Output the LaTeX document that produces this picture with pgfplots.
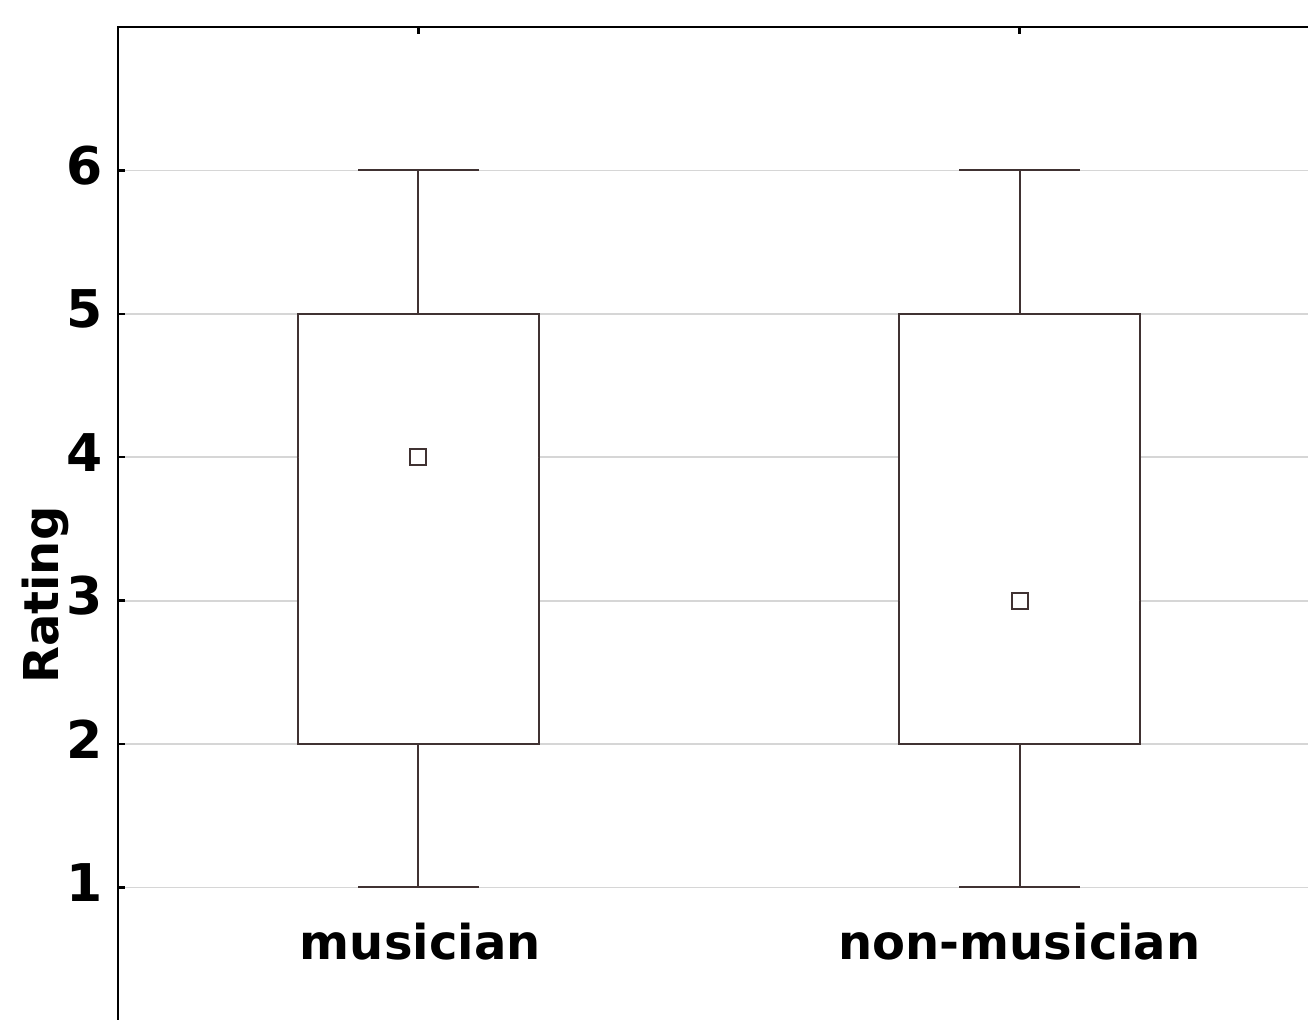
\documentclass[border=0pt]{standalone}
\usepackage{fontspec}
\setmainfont{DejaVu Sans}
\usepackage{pgfplots}
\pgfplotsset{compat=1.18}
\usepgfplotslibrary{statistics}
\definecolor{boxc}{RGB}{64,50,50}
\definecolor{gridc}{RGB}{214,214,214}
\begin{document}
\begin{tikzpicture}
\clip (-59pt,13.5pt) rectangle (595pt,-496pt);
\begin{axis}[
  at={(0,0)}, anchor=north west,
  scale only axis, width=601pt, height=501.9pt,
  xmin=-0.5, xmax=1.5, ymin=0, ymax=7,
  axis line style={line width=1.3pt, black},
  xtick={0,1}, xticklabels={}, ytick={1,2,3,4,5,6},
  tick align=inside, major tick length=3.5pt,
  tick style={line width=1.2pt, black},
  ytick pos=left,
  ymajorgrids, grid style={gridc, line width=0.9pt},
  /pgf/number format/assume math mode=true,
  yticklabel style={font=\fontsize{26}{30}\selectfont\bfseries, inner sep=0pt, xshift=-7.5pt, yshift=2.5pt},
  ylabel={Rating},
  every axis y label/.style={at={(axis description cs:-0.06,0.434)}, rotate=90, anchor=center, font=\fontsize{24}{28}\selectfont\bfseries},
  boxplot/draw direction=y,
  clip=false,
]
\addplot[boxc, line width=1pt, fill=white,
  boxplot prepared={draw direction=y, draw position=0, lower whisker=1, lower quartile=2, median=4,
    upper quartile=5, upper whisker=6, box extend=0.4, whisker extend=0.2,
    every median/.style={draw=none}}] coordinates {};
\addplot[boxc, line width=1pt, fill=white,
  boxplot prepared={draw direction=y, draw position=1, lower whisker=1, lower quartile=2, median=3,
    upper quartile=5, upper whisker=6, box extend=0.4, whisker extend=0.2,
    every median/.style={draw=none}}] coordinates {};
\addplot[only marks, mark=square*, mark size=4pt,
  mark options={draw=boxc, fill=white, line width=1pt}] coordinates {(0,4) (1,3)};
\node[anchor=base, font=\fontsize{24}{28}\selectfont\bfseries] at (axis cs:0.003,0.5) {musician};
\node[anchor=base, font=\fontsize{24}{28}\selectfont\bfseries] at (axis cs:1,0.5) {non-musician};
\end{axis}
\end{tikzpicture}
\end{document}
